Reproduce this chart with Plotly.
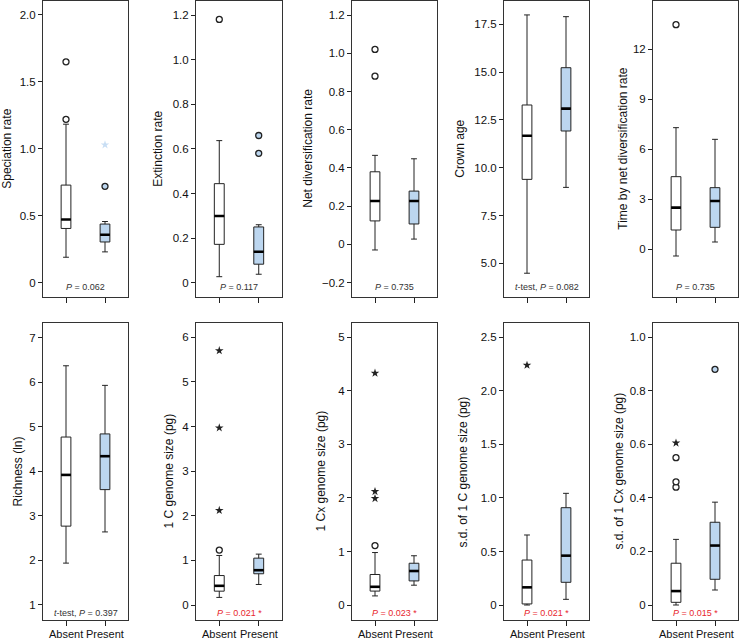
import plotly.graph_objects as go

GROUPS = ["Absent", "Present"]

PANEL_TITLES = [
    "Speciation rate",
    "Extinction rate",
    "Net diversification rate",
    "Crown age",
    "Time by net diversification rate",
    "Richness (ln)",
    "1 C genome size (pg)",
    "1 Cx genome size (pg)",
    "s.d. of 1 C genome size (pg)",
    "s.d. of 1 Cx genome size (pg)",
]

# box statistics, one [Absent, Present] pair per panel
LOWER_FENCE = [
    [0.19, 0.23], [0.027, 0.038], [-0.029, 0.028], [4.48, 8.97], [-0.42, 0.42],
    [1.94, 2.64], [0.17, 0.46], [0.17, 0.37], [0.0, 0.053], [0.0, 0.056],
]
Q1 = [
    [0.405, 0.304], [0.172, 0.083], [0.123, 0.107], [9.39, 11.92], [1.14, 1.30],
    [2.77, 3.59], [0.31, 0.70], [0.26, 0.45], [0.01, 0.212], [0.01, 0.096],
]
MEDIAN = [
    [0.472, 0.358], [0.299, 0.139], [0.227, 0.227], [11.67, 13.09], [2.48, 2.88],
    [3.92, 4.34], [0.43, 0.78], [0.34, 0.635], [0.165, 0.461], [0.052, 0.222],
]
Q3 = [
    [0.729, 0.438], [0.444, 0.25], [0.38, 0.279], [13.28, 15.23], [4.34, 3.68],
    [4.77, 4.84], [0.66, 1.05], [0.57, 0.78], [0.42, 0.909], [0.156, 0.309],
]
UPPER_FENCE = [
    [1.184, 0.457], [0.637, 0.26], [0.466, 0.448], [17.99, 17.9], [7.28, 6.58],
    [6.37, 5.93], [1.11, 1.14], [0.98, 0.92], [0.654, 1.043], [0.245, 0.384],
]

# outliers per panel
CIRCLES_ABSENT = [[1.22, 1.65], [1.18], [0.88, 1.02], [], [13.46], [], [1.23], [1.11], [], [0.44, 0.46, 0.55]]
CIRCLES_PRESENT = [[0.72], [0.58, 0.66], [], [], [], [], [], [], [], [0.88]]
STARS_ABSENT = [[], [], [], [], [], [], [2.12, 3.97, 5.70], [1.99, 2.12, 4.33], [2.24], [0.605]]
STARS_PRESENT = [[1.03], [], [], [], [], [], [], [], [], []]

P_TEXTS = [
    "<i>P</i> = 0.062", "<i>P</i> = 0.117", "<i>P</i> = 0.735",
    "<i>t</i>-test, <i>P</i> = 0.082", "<i>P</i> = 0.735",
    "<i>t</i>-test, <i>P</i> = 0.397", "<i>P</i> = 0.021 *", "<i>P</i> = 0.023 *",
    "<i>P</i> = 0.021 *", "<i>P</i> = 0.015 *",
]
SIGNIFICANT = [False, False, False, False, False, False, True, True, True, True]

Y_TICKVALS = [
    [0, 0.5, 1.0, 1.5, 2.0],
    [0, 0.2, 0.4, 0.6, 0.8, 1.0, 1.2],
    [-0.2, 0, 0.2, 0.4, 0.6, 0.8, 1.0, 1.2],
    [5.0, 7.5, 10.0, 12.5, 15.0, 17.5],
    [0, 3, 6, 9, 12],
    [1, 2, 3, 4, 5, 6, 7],
    [0, 1, 2, 3, 4, 5, 6],
    [0, 1, 2, 3, 4, 5],
    [0, 0.5, 1.0, 1.5, 2.0, 2.5],
    [0, 0.2, 0.4, 0.6, 0.8, 1.0],
]
Y_TICKTEXT = [
    ["0", "0.5", "1.0", "1.5", "2.0"],
    ["0", "0.2", "0.4", "0.6", "0.8", "1.0", "1.2"],
    ["\u22120.2", "0", "0.2", "0.4", "0.6", "0.8", "1.0", "1.2"],
    ["5.0", "7.5", "10.0", "12.5", "15.0", "17.5"],
    ["0", "3", "6", "9", "12"],
    ["1", "2", "3", "4", "5", "6", "7"],
    ["0", "1", "2", "3", "4", "5", "6"],
    ["0", "1", "2", "3", "4", "5"],
    ["0", "0.5", "1.0", "1.5", "2.0", "2.5"],
    ["0", "0.2", "0.4", "0.6", "0.8", "1.0"],
]

Y_RANGES = [
    [-0.107, 2.108], [-0.064, 1.265], [-0.275, 1.276], [3.237, 18.745], [-2.88, 14.91],
    [0.663, 7.33], [-0.336, 6.32], [-0.28, 5.267], [-0.14, 2.634], [-0.056, 1.053],
]

W, H = 739, 641
COL_PX = [(43, 128), (196, 282), (352, 437), (504, 589), (653, 738)]
ROW_PX = [(0.5, 297), (323, 620)]
TITLE_X_PX = [7, 158, 308, 460, 623, 17, 168, 320, 462, 618]
GROUP_LABEL_Y_PX = 633.5
BOX_W = 0.25
FILLS = ["white", "#bcd6ef"]
EDGE = "#222222"
FONT = "Liberation Sans, Arial, Helvetica, sans-serif"

fig = go.Figure()
layout = {}
annotations = []

for i in range(10):
    n = i + 1
    row, col = divmod(i, 5)
    suffix = "" if n == 1 else str(n)
    xa, ya = f"x{suffix}", f"y{suffix}"
    for g in range(2):
        fig.add_trace(go.Box(
            x=[g], q1=[Q1[i][g]], median=[MEDIAN[i][g]], q3=[Q3[i][g]],
            lowerfence=[LOWER_FENCE[i][g]], upperfence=[UPPER_FENCE[i][g]],
            width=BOX_W, whiskerwidth=0.6, fillcolor=FILLS[g],
            line={"color": EDGE, "width": 1}, boxpoints=False,
            xaxis=xa, yaxis=ya, showlegend=False, name=GROUPS[g],
        ))
        fig.add_trace(go.Scatter(
            x=[g - BOX_W / 2, g + BOX_W / 2], y=[MEDIAN[i][g]] * 2,
            mode="lines", line={"color": "black", "width": 2.6},
            xaxis=xa, yaxis=ya, showlegend=False, hoverinfo="skip",
        ))
    for g, vals in ((0, CIRCLES_ABSENT[i]), (1, CIRCLES_PRESENT[i])):
        if vals:
            fig.add_trace(go.Scatter(
                x=[g] * len(vals), y=vals, mode="markers",
                marker={"symbol": "circle", "size": 6, "color": FILLS[g],
                        "line": {"color": EDGE, "width": 1.3}},
                xaxis=xa, yaxis=ya, showlegend=False,
            ))
    for g, vals in ((0, STARS_ABSENT[i]), (1, STARS_PRESENT[i])):
        if vals:
            fig.add_trace(go.Scatter(
                x=[g] * len(vals), y=vals, mode="markers",
                marker={"symbol": "star", "size": 6.5,
                        "color": "#222222" if g == 0 else "#c8def4",
                        "line": {"width": 0}},
                xaxis=xa, yaxis=ya, showlegend=False,
            ))

    x0, x1 = COL_PX[col]
    y0, y1 = ROW_PX[row]
    layout[f"xaxis{suffix}"] = {
        "domain": [x0 / W, x1 / W], "anchor": ya, "range": [-0.59, 1.59],
        "tickvals": [0, 1], "showticklabels": False,
        "ticks": "outside", "ticklen": 5, "tickcolor": EDGE,
        "showline": True, "mirror": True, "linecolor": "#333333", "linewidth": 1,
        "showgrid": False, "zeroline": False, "fixedrange": True,
    }
    layout[f"yaxis{suffix}"] = {
        "domain": [1 - y1 / H, 1 - y0 / H], "anchor": xa, "range": Y_RANGES[i],
        "tickvals": Y_TICKVALS[i], "ticktext": Y_TICKTEXT[i],
        "ticks": "outside", "ticklen": 4, "tickcolor": EDGE,
        "showline": True, "mirror": True, "linecolor": "#333333", "linewidth": 1,
        "showgrid": False, "zeroline": False, "fixedrange": True,
        "tickfont": {"size": 11.5, "color": "#111111"},
    }
    # group labels under the bottom row
    if row == 1:
        for g, label in enumerate(GROUPS):
            annotations.append({
                "text": label, "xref": xa, "yref": "paper",
                "x": g, "y": 1 - GROUP_LABEL_Y_PX / H,
                "xanchor": "center", "yanchor": "middle", "showarrow": False,
                "font": {"size": 11, "color": "#111111"},
            })
    # rotated axis title
    annotations.append({
        "text": PANEL_TITLES[i], "xref": "paper", "yref": "paper",
        "x": TITLE_X_PX[i] / W, "y": 1 - (y0 + y1) / 2 / H,
        "xanchor": "center", "yanchor": "middle", "textangle": -90,
        "showarrow": False, "font": {"size": 12, "color": "#111111"},
    })
    annotations.append({
        "text": P_TEXTS[i], "xref": f"{xa} domain", "yref": f"{ya} domain",
        "x": 0.5, "y": (10 if row == 0 else 7.5) / (y1 - y0), "yanchor": "middle",
        "showarrow": False,
        "font": {"size": 9, "color": "#e8262e" if SIGNIFICANT[i] else "#333333"},
    })

fig.update_layout(
    **layout,
    annotations=annotations,
    width=W, height=H,
    margin={"l": 0, "r": 0, "t": 0, "b": 0},
    paper_bgcolor="white", plot_bgcolor="white",
    font={"family": FONT, "color": "#111111"},
    showlegend=False,
)

# drop the default page margin so the figure sits at the window's corner
fig.write_html(
    "out.html",
    config={"displayModeBar": False},
    post_script="document.body.style.margin = '0'; document.body.style.overflow = 'hidden';",
)
